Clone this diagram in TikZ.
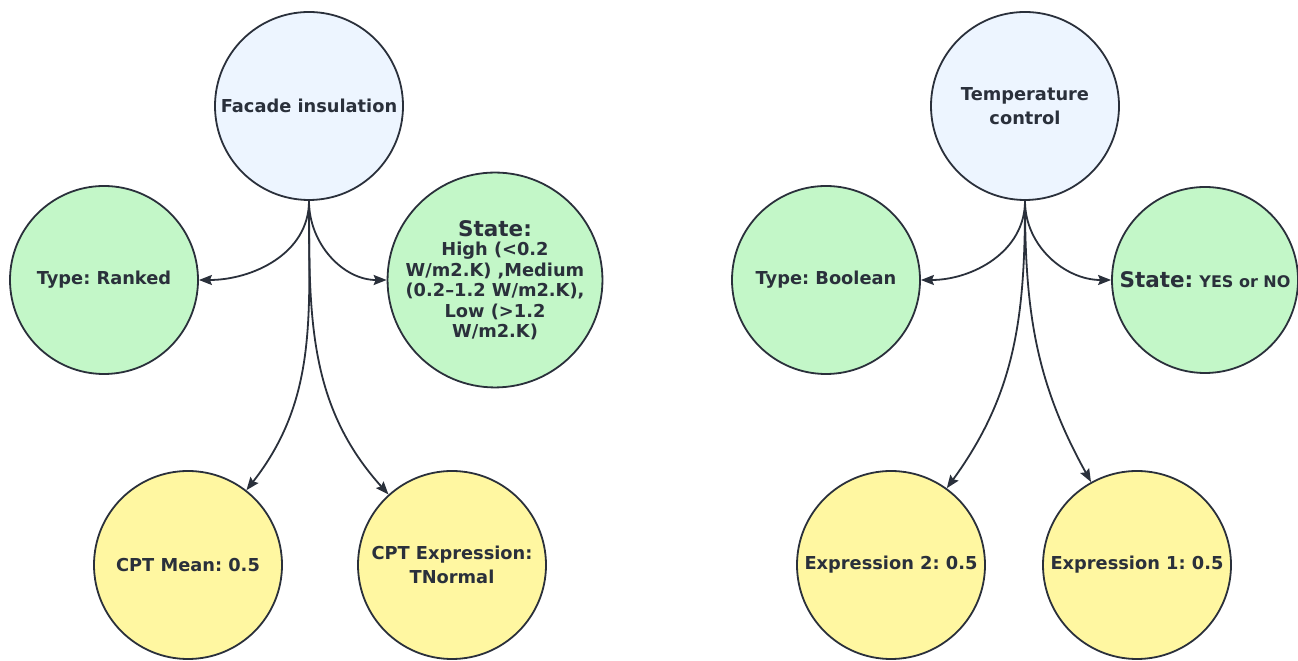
\documentclass[tikz,border=0pt]{standalone}
\usepackage{fontspec}
\setmainfont{DejaVu Sans}
\usetikzlibrary{arrows.meta}
\definecolor{ink}{HTML}{2A303B}
\definecolor{fblue}{HTML}{EDF5FF}
\definecolor{fgreen}{HTML}{C3F7C8}
\definecolor{fyellow}{HTML}{FFF7A1}
\begin{document}
\frenchspacing
\begin{tikzpicture}[x=1pt,y=1pt,
  bub/.style={circle,draw=ink,line width=1.8pt,minimum size=#1,inner sep=0pt,align=center,text=ink,
    font=\frenchspacing\bfseries\fontsize{17.8}{20.5}\selectfont},
  bub/.default=188pt,
  conn/.style={draw=ink,line width=1.8pt,-{Stealth[length=13pt,width=10pt,inset=2pt]}}]
\useasboundingbox (0,0) rectangle (1298,661);
% left group
\node[bub,fill=fblue] (fac) at (309,555) {Facade insulation};
\node[bub,fill=fgreen] (ranked) at (104,381) {Type: Ranked};
\node[bub=186pt,fill=fgreen] (stateL) at (495,381) {{\fontsize{21.5}{24}\selectfont State:}\\[-1pt] High (<0.2\\ W/m2.K) ,Medium\\ (0.2–1.2 W/m2.K),\\ Low (>1.2\\ W/m2.K)};
\node[bub,fill=fyellow] (mean) at (188,96) {CPT Mean: 0.5};
\node[bub,fill=fyellow] (cptexp) at (452,96) {CPT Expression:\\[4pt] TNormal};
% right group
\node[bub,fill=fblue] (temp) at (1025,555) {Temperature\\[3pt] control};
\node[bub,fill=fgreen] (bool) at (826,381) {Type: Boolean};
\node[bub=186pt,fill=fgreen] (stateR) at (1205,381) {{\fontsize{21.5}{24}\selectfont State:} {\fontsize{16}{20}\selectfont YES or NO}};
\node[bub,fill=fyellow] (expr2) at (891,96) {Expression 2: 0.5};
\node[bub,fill=fyellow] (expr1) at (1137,96) {Expression 1: 0.5};
% connectors
\draw[conn] (fac.south) to[out=-90,in=0] (ranked.east);
\draw[conn] (fac.south) to[out=-90,in=180] (stateL.west);
\draw[conn] (fac.south) to[out=-90,in=52] (mean.52);
\draw[conn] (fac.south) to[out=-90,in=132] (cptexp.132);
\draw[conn] (temp.south) to[out=-90,in=0] (bool.east);
\draw[conn] (temp.south) to[out=-90,in=180] (stateR.west);
\draw[conn] (temp.south) to[out=-90,in=54] (expr2.54);
\draw[conn] (temp.south) to[out=-90,in=119] (expr1.119);
\end{tikzpicture}
\end{document}
